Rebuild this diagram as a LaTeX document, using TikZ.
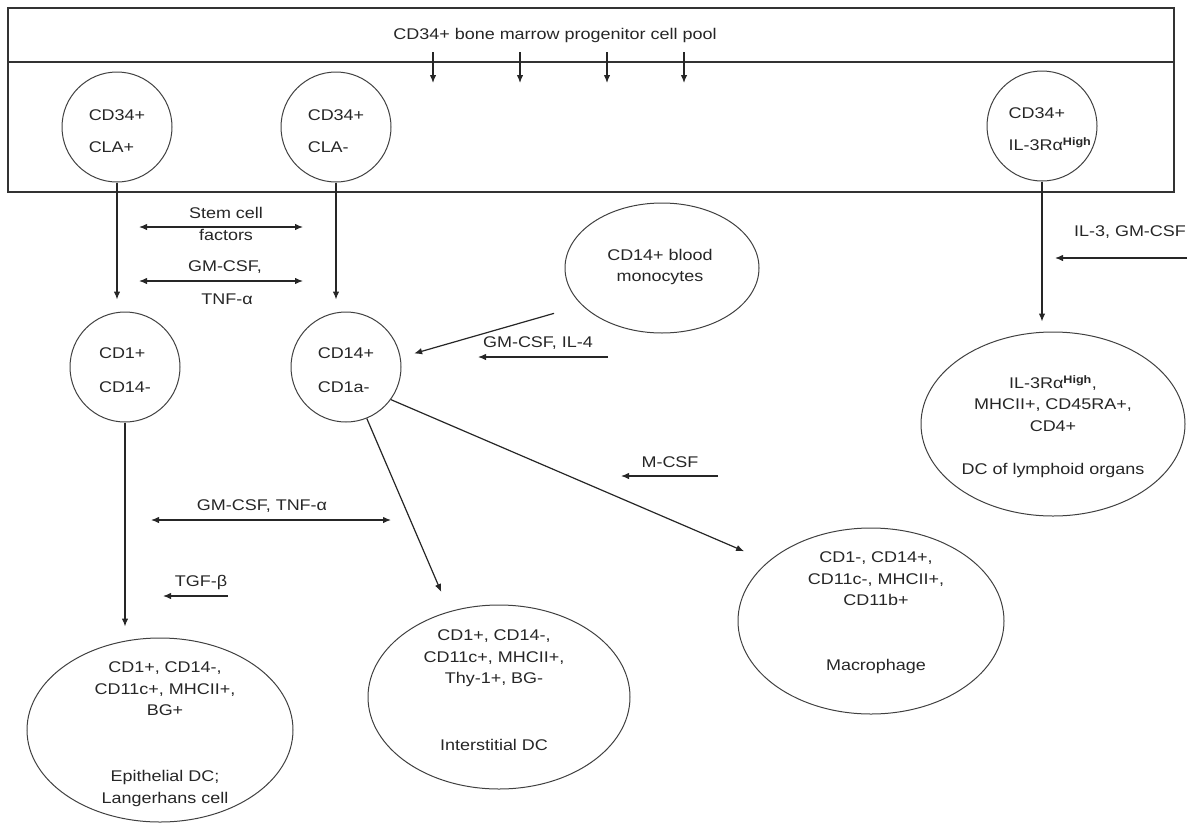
\documentclass[tikz,border=0pt]{standalone}
\usepackage{fontspec}
\setmainfont{Liberation Sans}[FakeStretch=1.16]
\usetikzlibrary{arrows.meta,shapes.geometric}
\begin{document}
\begin{tikzpicture}[x=1pt,y=-1pt,
  every node/.style={font=\fontsize{15.5}{21.5}\selectfont, text=black!85},
  cell/.style={draw=black!75, line width=1pt, circle, minimum size=110pt, inner sep=0pt},
  oval/.style={draw=black!75, line width=1pt, ellipse, inner sep=0pt},
  lbl/.style={align=center, inner sep=0pt},
  ctext/.style={align=left, inner sep=0pt},
  arr/.style={draw=black!85, line width=1.2pt, -{Latex[length=8pt,width=6.5pt]}},
  darr/.style={draw=black!85, line width=1.2pt, {Latex[length=8pt,width=6.5pt]}-{Latex[length=8pt,width=6.5pt]}},
  boxline/.style={draw=black!80, line width=1.2pt}]
\useasboundingbox (0,0) rectangle (1194,822);
% progenitor pool box
\draw[boxline] (8,8) rectangle (1174,192);
\draw[boxline] (8,62) -- (1174,62);
\node[lbl] (title) at (555,35) {CD34+ bone marrow progenitor cell pool};
\foreach \x in {433,520,607,684} \draw[arr] (\x,52) -- (\x,83);
% progenitor circles
\node[cell] (A) at (117,127) {};
\node[ctext] (At) at (117,131) {CD34+\\[10.5pt]CLA+};
\node[cell] (B) at (336,127) {};
\node[ctext] (Bt) at (336,131) {CD34+\\[10.5pt]CLA-};
\node[cell] (C) at (1042,126) {};
\node[ctext] (Ct) at (1050,129) {CD34+\\[10.5pt]IL-3Rα\textsuperscript{\bfseries High}};
% intermediate circles
\node[cell] (D) at (125,367) {};
\node[ctext] (Dt) at (125,370) {CD1+\\[12.5pt]CD14-};
\node[cell] (E) at (346,367) {};
\node[ctext] (Et) at (346,370) {CD14+\\[12.5pt]CD1a-};
% ellipses
\node[oval, minimum width=194pt, minimum height=130pt] (mono) at (662,268) {};
\node[lbl] (monot) at (660,267) {CD14+ blood\\monocytes};
\node[oval, minimum width=264pt, minimum height=184pt] (lymph) at (1053,424) {};
\node[lbl] (lympht) at (1053,426.5) {IL-3Rα\textsuperscript{\bfseries High},\\MHCII+, CD45RA+,\\CD4+\\[21.5pt]DC of lymphoid organs};
\node[oval, minimum width=266pt, minimum height=184pt] (epi) at (160,730) {};
\node[lbl] (epit) at (165,734) {CD1+, CD14-,\\CD11c+, MHCII+,\\BG+\\[44.5pt]Epithelial DC;\\Langerhans cell};
\node[oval, minimum width=262pt, minimum height=184pt] (inter) at (499,697) {};
\node[lbl] (intert) at (494,690.5) {CD1+, CD14-,\\CD11c+, MHCII+,\\Thy-1+, BG-\\[45.5pt]Interstitial DC};
\node[oval, minimum width=266pt, minimum height=186pt] (mac) at (871,621) {};
\node[lbl] (mact) at (876,613) {CD1-, CD14+,\\CD11c-, MHCII+,\\CD11b+\\[43.5pt]Macrophage};
% connectors
\draw[arr, shorten >=12pt] (A.south) -- (A.south |- D.north);
\draw[arr, shorten >=12pt] (B.south) -- (B.south |- E.north);
\draw[arr, shorten >=10pt] (C.south) -- (C.south |- lymph.north);
\draw[arr, shorten >=11pt] (D.south) -- (D.south |- epi.north);
\draw[arr, shorten <=29pt, shorten >=14pt] (mono.205) -- (E.10);
\draw[arr, shorten >=21pt] (E.-68) -- (inter.120);
\draw[arr, shorten >=26pt] (E.-36) -- (mac.150);
% cytokine arrows and labels
\node[lbl] (stem) at (226,224) {Stem cell\\factors};
\draw[darr] (139,227) -- (303,227);
\node[lbl] (gm1) at (225,267) {GM-CSF,};
\draw[darr] (139,281) -- (303,281);
\node[lbl] (tnf1) at (227,299) {TNF-α};
\node[lbl] (gmil4) at (538,343) {GM-CSF, IL-4};
\draw[arr] (608,357) -- (478,357);
\node[lbl] (il3) at (1130,232) {IL-3, GM-CSF};
\draw[arr] (1187,258) -- (1055,258);
\node[lbl] (mcsf) at (670,462) {M-CSF};
\draw[arr] (718,476) -- (621,476);
\node[lbl] (gmtnf) at (262,506) {GM-CSF, TNF-α};
\draw[darr] (151,520) -- (391,520);
\node[lbl] (tgf) at (201,582) {TGF-β};
\draw[arr] (228,596) -- (163,596);
\end{tikzpicture}
\end{document}
